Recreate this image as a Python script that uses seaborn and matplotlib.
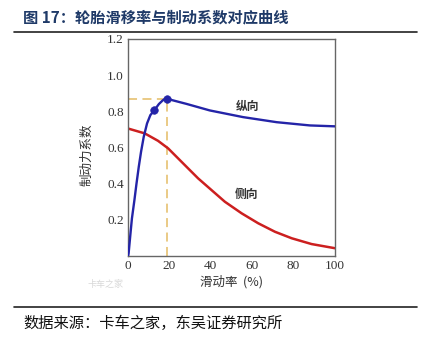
import matplotlib
matplotlib.use("Agg")
import matplotlib.pyplot as plt
import seaborn as sns
import pandas as pd
from matplotlib.lines import Line2D

# ---- data ----
slip_long = [0, 0.3, 1.2, 1.9, 3.1, 4.1, 5.2, 6.3, 7.6, 9.2, 10.8, 12.8, 14.9, 16.9, 18.6,
             28.3, 39.5, 55.6, 71.8, 87.9, 100]
coef_long = [0, 0.015, 0.125, 0.208, 0.309, 0.400, 0.493, 0.576, 0.659, 0.733, 0.779, 0.807, 0.840, 0.862, 0.870,
             0.841, 0.805, 0.768, 0.740, 0.722, 0.717]
slip_lat = [0, 8.1, 14.5, 19.4, 24.2, 29.0, 33.9, 40.3, 46.8, 54.9, 62.9, 71.0, 79.1, 88.7, 100]
coef_lat = [0.705, 0.678, 0.637, 0.595, 0.540, 0.485, 0.429, 0.365, 0.300, 0.236, 0.181, 0.134, 0.098, 0.066, 0.043]
marker_x = [12.8, 18.6]
marker_y = [0.807, 0.870]
peak_x = 18.6
peak_y = 0.870
xticks = [0, 20, 40, 60, 80, 100]
yticks = [0.2, 0.4, 0.6, 0.8, 1.0, 1.2]
ytick_labels = ["0.2", "0.4", "0.6", "0.8", "1.0", "1.2"]

title = "图 17：轮胎滑移率与制动系数对应曲线"
source = "数据来源：卡车之家，东吴证券研究所"
xlabel = "滑动率  (%)"
ylabel = "制动力系数"
label_long = "纵向"
label_lat = "侧向"

df_long = pd.DataFrame({"x": slip_long, "y": coef_long})
df_lat = pd.DataFrame({"x": slip_lat, "y": coef_lat})
df_mark = pd.DataFrame({"x": marker_x, "y": marker_y})

sns.set_theme(style="white")
plt.rcParams['font.family'] = ['Noto Sans CJK SC', 'DejaVu Sans']

fig = plt.figure(figsize=(4.3, 3.42), dpi=100)
ax = fig.add_axes([128/430, 1-256/342, (335-128)/430, (256-39)/342])

blue = "#2424a8"
red = "#cc1f1f"
dash_c = "#e8c67c"

ax.plot([0, peak_x], [peak_y, peak_y], color=dash_c, lw=1.3, ls=(0, (5, 3)), zorder=1)
ax.plot([peak_x, peak_x], [0, peak_y], color=dash_c, lw=1.3, ls=(0, (5, 3)), zorder=1)

sns.lineplot(data=df_long, x="x", y="y", ax=ax, color=blue, lw=1.7, zorder=3)
sns.lineplot(data=df_lat, x="x", y="y", ax=ax, color=red, lw=1.8, zorder=2)
sns.scatterplot(data=df_mark, x="x", y="y", ax=ax, color=blue, s=30, edgecolor=blue, zorder=4)

ax.set_xlim(0, 100)
ax.set_ylim(0, 1.2)
ax.set_xticks(xticks)
ax.set_xticklabels([str(v) for v in xticks], fontfamily="Liberation Serif", fontsize=9.5, color="#333333")
ax.set_yticks(yticks)
ax.set_yticklabels(ytick_labels, fontfamily="Liberation Serif", fontsize=9.5, color="#333333")
ax.tick_params(direction="in", length=4, width=1, color="#555555", pad=3)
for s in ax.spines.values():
    s.set_color("#666666")
    s.set_linewidth(1.0)
    s.set_visible(True)

ax.set_xlabel(xlabel, fontsize=9, color="#333333", labelpad=2)
ax.set_ylabel(ylabel, fontsize=9, color="#333333")
ax.yaxis.set_label_coords(-0.169, 0.465)

ax.text(57.5, 0.825, label_long, fontsize=8.5, color="#333333", ha="center", va="center", fontweight="bold")
ax.text(57.3, 0.34, label_lat, fontsize=8.5, color="#333333", ha="center", va="center", fontweight="bold")

# title, rules, source
fig.text(23/430, 1-17/342, title, fontsize=11, fontweight="bold", color="#1f3a68", ha="left", va="center")
fig.add_artist(Line2D([14/430, 417/430], [1-32/342, 1-32/342], color="#222222", lw=1.2))
fig.add_artist(Line2D([14/430, 417/430], [1-307/342, 1-307/342], color="#222222", lw=1.2))
fig.text(23/430, 1-323/342, source, fontsize=11, color="#111111", ha="left", va="center")
fig.text(105/430, 1-284/342, "卡车之家", fontsize=6.5, color="#d8d8d8", ha="center", va="center")

fig.savefig("out.png", dpi=100)
